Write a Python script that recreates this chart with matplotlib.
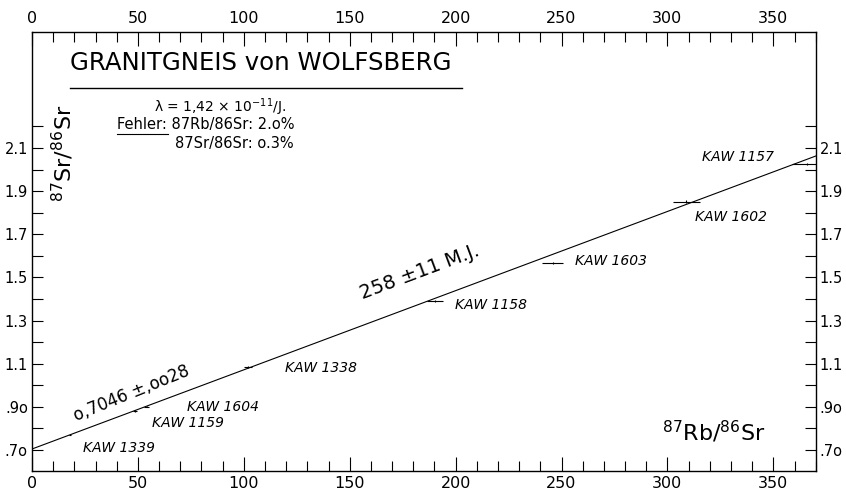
import numpy as np
import matplotlib
matplotlib.use("Agg")
from matplotlib import pyplot as plt
from matplotlib.ticker import FixedLocator, MultipleLocator

# Proben: 87Rb/86Sr, 87Sr/86Sr
proben = ['KAW 1339', 'KAW 1159', 'KAW 1604', 'KAW 1338',
          'KAW 1158', 'KAW 1603', 'KAW 1602', 'KAW 1157']
rb_sr = [18.0, 48.6, 54.1, 102.0, 190.3, 245.8, 309.0, 366.0]
sr_sr = [0.770, 0.881, 0.901, 1.084, 1.392, 1.566, 1.851, 2.025]
fehler_rb = 0.020
fehler_sr = 0.003

# Isochrone
alter = 258e6
lam = 1.42e-11
sr_initial = 0.7046

y_ticks = [0.7, 0.9, 1.1, 1.3, 1.5, 1.7, 1.9, 2.1]
y_labels = ['.7o', '.9o', '1.1', '1.3', '1.5', '1.7', '1.9', '2.1']
y_minor = [0.8, 1.0, 1.2, 1.4, 1.6, 1.8, 2.0, 2.2]
x_ticks = [0, 50, 100, 150, 200, 250, 300, 350]

# label offsets in pixels relative to the point
offsets = [(13, -13), (17, -12), (40, 0), (37, -1),
           (20, -4), (22, 2), (9, -15), (-105, 7)]

fig = plt.figure(figsize=(8.46, 4.97), dpi=100)
ax = fig.add_axes([32 / 846, 1 - 470.7 / 497, 783.7 / 846, 439 / 497])
ax.set_xlim(0, 370)
ax.set_ylim(0.604, 2.639)

slope = np.exp(lam * alter) - 1
xl = np.array([0, 370])
ax.plot(xl, sr_initial + slope * xl, color='black', lw=0.8)

x = np.array(rb_sr)
y = np.array(sr_sr)
ax.errorbar(x, y, xerr=fehler_rb * x, yerr=fehler_sr * y, fmt='none',
            ecolor='black', elinewidth=0.8, capsize=0)

for name, xi, yi, off in zip(proben, rb_sr, sr_sr, offsets):
    ax.annotate(name, (xi, yi), xytext=off, textcoords='offset pixels',
                ha='left', va='center', fontsize=10, style='italic')

ax.set_xticks(x_ticks)
ax.xaxis.set_minor_locator(MultipleLocator(10))
ax.yaxis.set_major_locator(FixedLocator(y_ticks))
ax.set_yticklabels(y_labels)
ax.yaxis.set_minor_locator(FixedLocator(y_minor))
ax.tick_params(axis='x', which='both', direction='in', top=True, bottom=True,
               labeltop=True, labelsize=11.5, width=0.8)
ax.tick_params(axis='x', which='major', length=10, pad=4)
ax.tick_params(axis='x', which='minor', length=7)
ax.tick_params(axis='y', which='both', direction='in', left=True, right=True,
               labelright=True, labelsize=10.5, width=0.8, length=8, pad=3)
for s in ax.spines.values():
    s.set_linewidth(1.0)

tr = ax.transAxes
ax.text(0.0485, 0.9287, 'GRANITGNEIS von WOLFSBERG', transform=tr,
        fontsize=17.6, ha='left', va='center')
ax.plot([0.0485, 0.5487], [0.8718, 0.8718], transform=tr, color='black', lw=1.0)
ax.text(0.24, 0.8285, 'λ = 1,42 × 10$^{-11}$/J.', transform=tr,
        fontsize=10, ha='center', va='center')
ax.text(0.1085, 0.7875, 'Fehler: 87Rb/86Sr: 2.o%', transform=tr,
        fontsize=10.5, ha='left', va='center')
ax.plot([0.1085, 0.1736], [0.767, 0.767], transform=tr, color='black', lw=0.8)
ax.text(0.1825, 0.746, '87Sr/86Sr: o.3%', transform=tr,
        fontsize=10.5, ha='left', va='center')

ax.text(0.0396, 0.7237, r'$^{87}$Sr/$^{86}$Sr', transform=tr, rotation=90,
        fontsize=16, ha='center', va='center')
ax.text(0.870, 0.088, r'$^{87}$Rb/$^{86}$Sr', transform=tr,
        fontsize=16, ha='center', va='center')

ax.text(0.495, 0.4526, '258 ±11 M.J.', transform=tr, rotation=20.5,
        rotation_mode='anchor', fontsize=14, ha='center', va='center')
ax.text(0.127, 0.177, 'o,7046 ±,oo28', transform=tr, rotation=22,
        rotation_mode='anchor', fontsize=12, ha='center', va='center')

fig.savefig('out.png', dpi=100)
